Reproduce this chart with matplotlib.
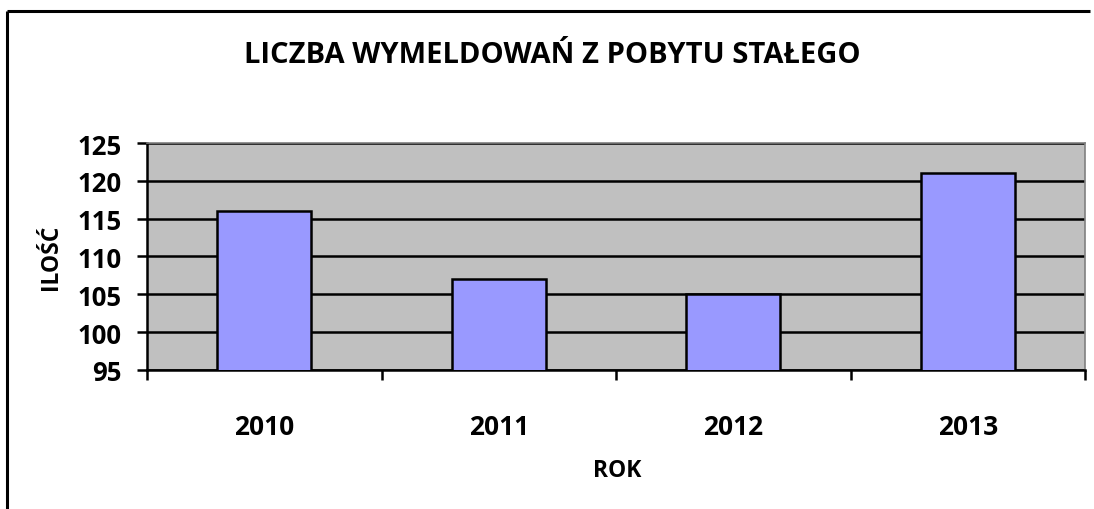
import matplotlib
matplotlib.use("Agg")
import matplotlib.pyplot as plt
from matplotlib.lines import Line2D


YEARS = ["2010", "2011", "2012", "2013"]
COUNTS = [116, 107, 105, 121]
Y_TICKS = [95, 100, 105, 110, 115, 120, 125]

TITLE = "LICZBA WYMELDOWAŃ Z POBYTU STAŁEGO"
X_LABEL = "ROK"
Y_LABEL = "ILOŚĆ"

BAR_COLOR = "#9999FF"
PLOT_BG = "#C0C0C0"

W, H = 1094, 510

plt.rcParams["font.family"] = ["Open Sans", "DejaVu Sans"]
plt.rcParams["font.weight"] = "bold"


def main():
    fig = plt.figure(figsize=(W / 100, H / 100), dpi=100)

    # chart frame: only left and top edges are visible in the original
    fx, fy = 7 / W, 1 - 12 / H
    fig.lines.append(Line2D([fx, fx], [0, fy], transform=fig.transFigure,
                            color="black", linewidth=2.2, solid_capstyle="butt"))
    fig.lines.append(Line2D([fx, (W - 4) / W], [fy, fy], transform=fig.transFigure,
                            color="black", linewidth=2.2, solid_capstyle="butt"))

    left, right, top, bottom = 147, 1085, 144, 371
    ax = fig.add_axes([left / W, 1 - bottom / H, (right - left) / W, (bottom - top) / H])
    ax.set_facecolor(PLOT_BG)

    x = range(len(YEARS))
    ax.bar(x, COUNTS, width=0.4, color=BAR_COLOR, edgecolor="black",
           linewidth=1.8, zorder=3)

    ax.set_xlim(-0.5, len(YEARS) - 0.5)
    ax.set_ylim(Y_TICKS[0], Y_TICKS[-1])
    ax.set_yticks(Y_TICKS)
    ax.set_yticklabels([str(v) for v in Y_TICKS], fontsize=18.5, fontweight="bold")
    ax.yaxis.grid(True, color="black", linewidth=1.8, zorder=1)
    ax.set_axisbelow(True)

    # category labels sit between the boundary ticks
    ax.set_xticks([i - 0.5 for i in range(len(YEARS) + 1)])
    ax.set_xticklabels([])
    ax.set_xticks(list(x), minor=True)
    ax.set_xticklabels(YEARS, minor=True, fontsize=19, fontweight="bold")
    ax.tick_params(axis="x", which="minor", length=0, pad=31)
    ax.tick_params(axis="x", which="major", length=7, width=1.8, direction="out")
    ax.tick_params(axis="y", length=7, width=1.8, direction="out", pad=11)

    for side in ["top", "right"]:
        ax.spines[side].set_color("#808080")
        ax.spines[side].set_linewidth(1.2)
    for side in ["left", "bottom"]:
        ax.spines[side].set_color("black")
        ax.spines[side].set_linewidth(1.8)

    fig.text(552 / W, 1 - 63 / H, TITLE, ha="center", va="baseline",
             fontsize=21, fontweight="bold")
    fig.text(617 / W, 1 - 477 / H, X_LABEL, ha="center", va="baseline",
             fontsize=16.5, fontweight="bold")
    fig.text(51 / W, 1 - 257 / H, Y_LABEL, ha="center", va="center",
             rotation=90, fontsize=16.5, fontweight="bold")

    fig.savefig("out.png", dpi=100)


if __name__ == "__main__":
    main()
